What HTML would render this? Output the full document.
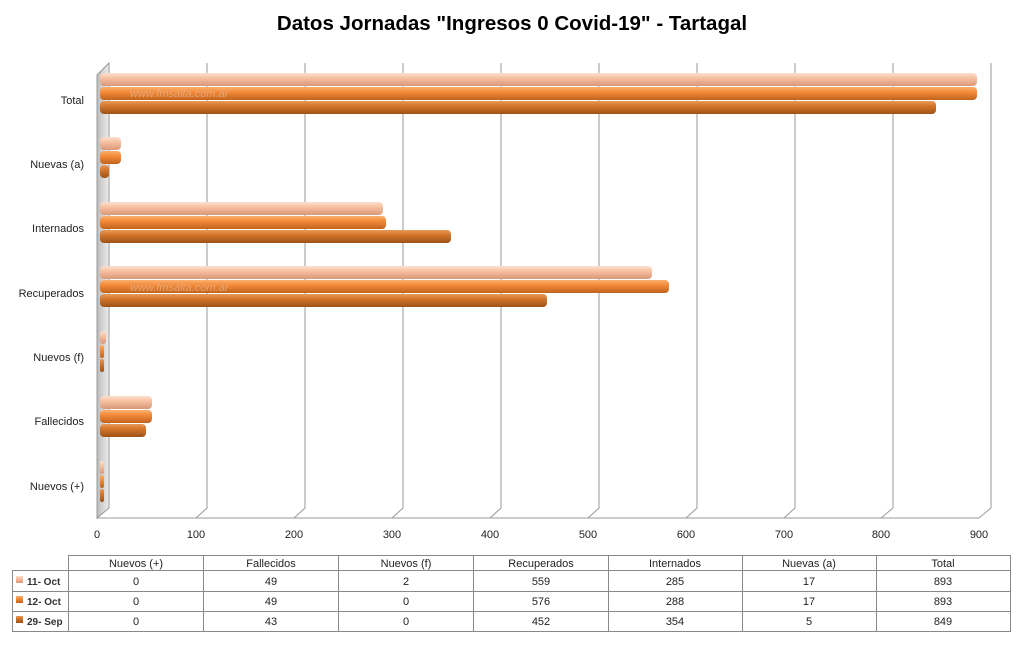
<!DOCTYPE html>
<html><head><meta charset="utf-8"><style>
body{margin:0;background:#fff;width:1024px;height:647px;overflow:hidden;font-family:"Liberation Sans",sans-serif}
</style></head><body>
<svg width="1024" height="647" xmlns="http://www.w3.org/2000/svg" font-family="Liberation Sans, DejaVu Sans, sans-serif">
<defs>
<linearGradient id="g1" x1="0" y1="0" x2="0" y2="1"><stop offset="0" stop-color="#fde0cf"/><stop offset="0.4" stop-color="#f6c0a0"/><stop offset="1" stop-color="#d9987a"/></linearGradient>
<linearGradient id="g2" x1="0" y1="0" x2="0" y2="1"><stop offset="0" stop-color="#fbb070"/><stop offset="0.4" stop-color="#f28a38"/><stop offset="1" stop-color="#c0641e"/></linearGradient>
<linearGradient id="g3" x1="0" y1="0" x2="0" y2="1"><stop offset="0" stop-color="#e8995a"/><stop offset="0.4" stop-color="#d37428"/><stop offset="1" stop-color="#9c5218"/></linearGradient>
<linearGradient id="wall" x1="0" y1="0" x2="1" y2="0"><stop offset="0" stop-color="#bbb"/><stop offset="1" stop-color="#eee"/></linearGradient>
</defs>
<text x="512" y="30" text-anchor="middle" font-size="20.5" font-weight="bold" fill="#000">Datos Jornadas "Ingresos 0 Covid-19" - Tartagal</text>
<polygon points="97,75 109,63 109,508 97,518" fill="url(#wall)" stroke="#999" stroke-width="1"/>
<g stroke="#999" stroke-width="1" fill="none">
<line x1="97" y1="518" x2="979" y2="518"/>
<path d="M196,518 L207,508 L207,63"/><path d="M294,518 L305,508 L305,63"/><path d="M392,518 L403,508 L403,63"/>
<path d="M490,518 L501,508 L501,63"/><path d="M588,518 L599,508 L599,63"/><path d="M686,518 L697,508 L697,63"/>
<path d="M784,518 L795,508 L795,63"/><path d="M881,518 L893,508 L893,63"/><path d="M979,518 L991,508 L991,63"/>
</g>
<g font-size="11" fill="#222" text-anchor="middle">
<text x="97" y="538">0</text><text x="196" y="538">100</text><text x="294" y="538">200</text><text x="392" y="538">300</text><text x="490" y="538">400</text><text x="588" y="538">500</text><text x="686" y="538">600</text><text x="784" y="538">700</text><text x="881" y="538">800</text><text x="979" y="538">900</text>
</g>
<g font-size="11" fill="#222" text-anchor="end">
<text x="84" y="104">Total</text><text x="84" y="168">Nuevas (a)</text><text x="84" y="232">Internados</text><text x="84" y="297">Recuperados</text><text x="84" y="361">Nuevos (f)</text><text x="84" y="425">Fallecidos</text><text x="84" y="490">Nuevos (+)</text>
</g>
<g id="bars">
<rect x="100" y="73" width="877" height="13" rx="4" fill="url(#g1)"/>
<rect x="100" y="87" width="877" height="13" rx="4" fill="url(#g2)"/>
<rect x="100" y="101" width="836" height="13" rx="4" fill="url(#g3)"/>
<rect x="100" y="137" width="21" height="13" rx="4" fill="url(#g1)"/>
<rect x="100" y="151" width="21" height="13" rx="4" fill="url(#g2)"/>
<rect x="100" y="165" width="9" height="13" rx="4" fill="url(#g3)"/>
<rect x="100" y="202" width="283" height="13" rx="4" fill="url(#g1)"/>
<rect x="100" y="216" width="286" height="13" rx="4" fill="url(#g2)"/>
<rect x="100" y="230" width="351" height="13" rx="4" fill="url(#g3)"/>
<rect x="100" y="266" width="552" height="13" rx="4" fill="url(#g1)"/>
<rect x="100" y="280" width="569" height="13" rx="4" fill="url(#g2)"/>
<rect x="100" y="294" width="447" height="13" rx="4" fill="url(#g3)"/>
<rect x="100" y="331" width="6" height="13" rx="3" fill="url(#g1)"/>
<rect x="100" y="345" width="4" height="13" rx="2" fill="url(#g2)"/>
<rect x="100" y="359" width="4" height="13" rx="2" fill="url(#g3)"/>
<rect x="100" y="396" width="52" height="13" rx="4" fill="url(#g1)"/>
<rect x="100" y="410" width="52" height="13" rx="4" fill="url(#g2)"/>
<rect x="100" y="424" width="46" height="13" rx="4" fill="url(#g3)"/>
<rect x="100" y="461" width="4" height="13" rx="2" fill="url(#g1)"/>
<rect x="100" y="475" width="4" height="13" rx="2" fill="url(#g2)"/>
<rect x="100" y="489" width="4" height="13" rx="2" fill="url(#g3)"/>
</g>
<text x="130" y="97" font-size="11" font-style="italic" fill="#e8b08a" opacity="0.8">www.fmsalta.com.ar</text>
<text x="130" y="291" font-size="11" font-style="italic" fill="#e8b08a" opacity="0.8">www.fmsalta.com.ar</text>
<g stroke="#888" stroke-width="1" fill="none">
<rect x="68.5" y="555.5" width="942" height="76"/>
<rect x="12.5" y="570.5" width="56" height="61"/>
<line x1="12" y1="570.5" x2="1010" y2="570.5"/>
<line x1="12" y1="591.5" x2="1010" y2="591.5"/>
<line x1="12" y1="611.5" x2="1010" y2="611.5"/>
<line x1="203.5" y1="555" x2="203.5" y2="632"/><line x1="338.5" y1="555" x2="338.5" y2="632"/><line x1="473.5" y1="555" x2="473.5" y2="632"/><line x1="608.5" y1="555" x2="608.5" y2="632"/><line x1="742.5" y1="555" x2="742.5" y2="632"/><line x1="876.5" y1="555" x2="876.5" y2="632"/>
</g>
<g font-size="11" fill="#222" text-anchor="middle">
<text x="136" y="567">Nuevos (+)</text><text x="271" y="567">Fallecidos</text><text x="406" y="567">Nuevos (f)</text><text x="541" y="567">Recuperados</text><text x="675" y="567">Internados</text><text x="809" y="567">Nuevas (a)</text><text x="943" y="567">Total</text>
<text x="136" y="585">0</text><text x="271" y="585">49</text><text x="406" y="585">2</text><text x="541" y="585">559</text><text x="675" y="585">285</text><text x="809" y="585">17</text><text x="943" y="585">893</text>
<text x="136" y="605">0</text><text x="271" y="605">49</text><text x="406" y="605">0</text><text x="541" y="605">576</text><text x="675" y="605">288</text><text x="809" y="605">17</text><text x="943" y="605">893</text>
<text x="136" y="625">0</text><text x="271" y="625">43</text><text x="406" y="625">0</text><text x="541" y="625">452</text><text x="675" y="625">354</text><text x="809" y="625">5</text><text x="943" y="625">849</text>
</g>
<rect x="16" y="576" width="7" height="7" fill="url(#g1)"/><rect x="16" y="596" width="7" height="7" fill="url(#g2)"/><rect x="16" y="616" width="7" height="7" fill="url(#g3)"/>
<g font-size="10" font-weight="bold" fill="#333">
<text x="27" y="585">11- Oct</text><text x="27" y="605">12- Oct</text><text x="27" y="625">29- Sep</text>
</g>
</svg>
</body></html>
